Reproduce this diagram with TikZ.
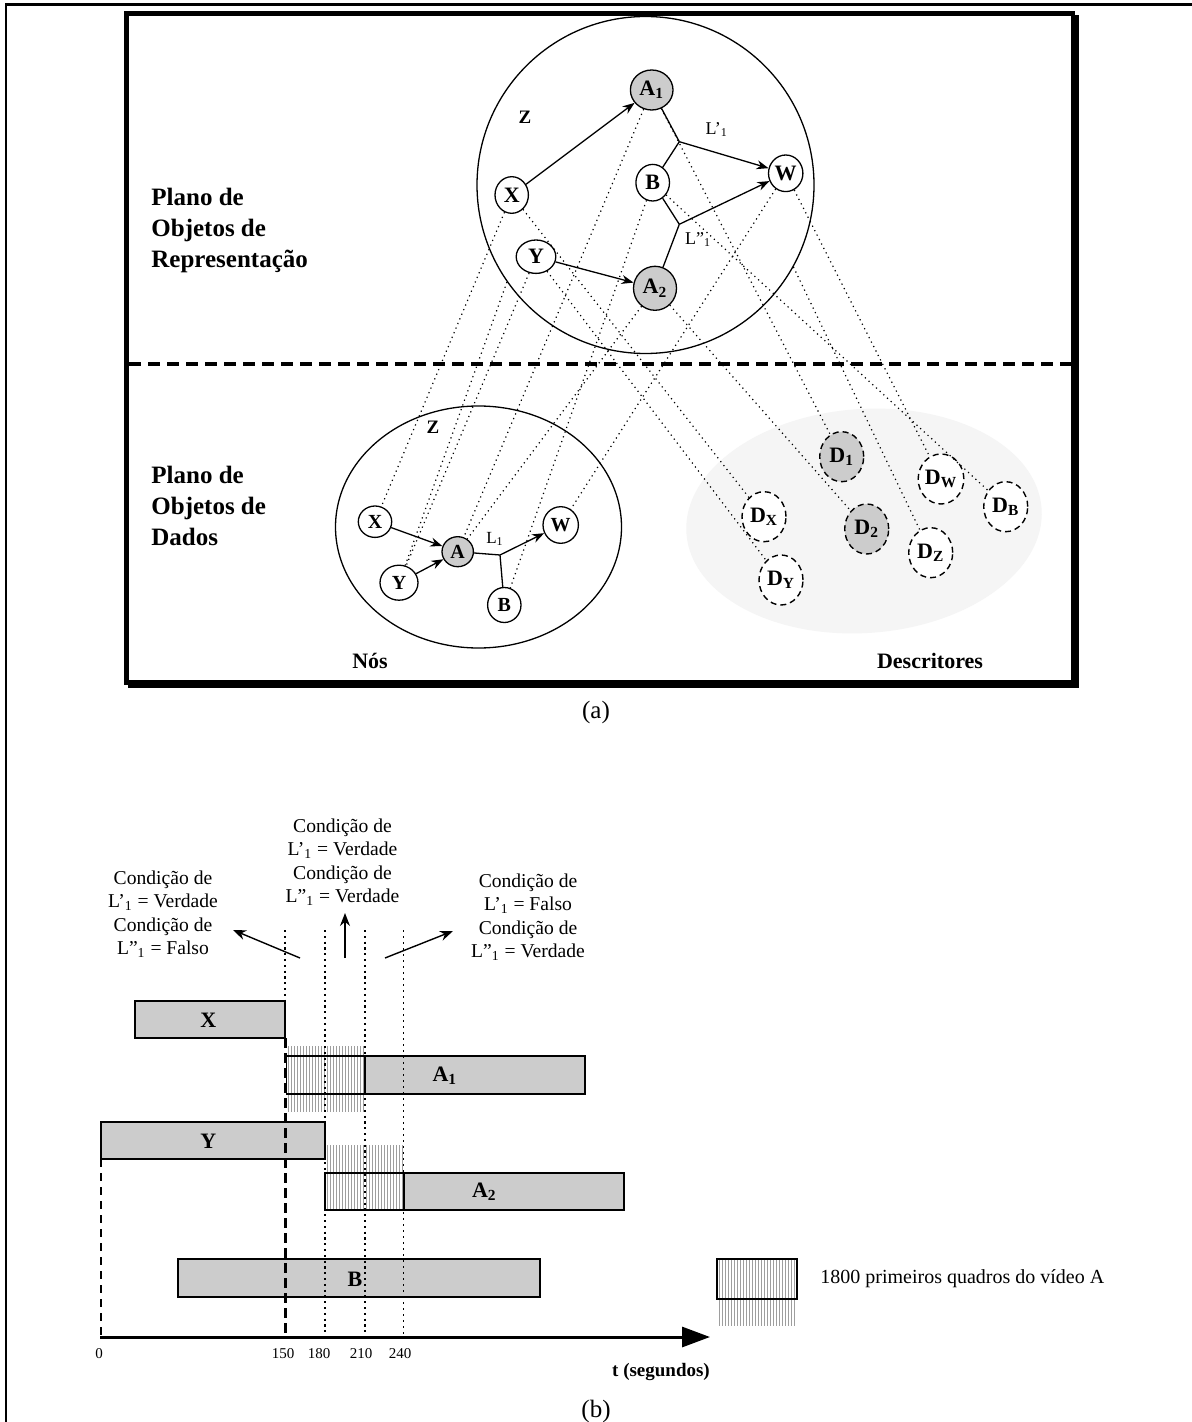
\documentclass[tikz,border=0pt]{standalone}
\usepackage{fontspec}
\setmainfont{Liberation Serif}
\usetikzlibrary{shapes.geometric,arrows.meta}
\definecolor{nodegray}{gray}{0.8}
\definecolor{descbg}{gray}{0.96}
\definecolor{bargray}{gray}{0.8}
\definecolor{hatchgray}{gray}{0.62}
\begin{document}
\begin{tikzpicture}[x=0.5pt,y=-0.5pt,
  nd/.style 2 args={ellipse,draw,line width=0.65pt,inner sep=0pt,minimum width=#1pt,minimum height=#2pt,fill=white,font=\bfseries\fontsize{11}{12}\selectfont},
  lnd/.style 2 args={nd={#1}{#2},font=\bfseries\fontsize{10}{11}\selectfont},
  dd/.style={ellipse,draw,line width=0.7pt,dash pattern=on 3pt off 2pt,inner sep=0pt,minimum width=22pt,minimum height=25pt,fill=white,font=\bfseries\fontsize{11}{12}\selectfont},
  arr/.style={line width=0.65pt,-{Stealth[length=6pt,width=4.5pt]}},
  ln/.style={line width=0.65pt},
  map/.style={line width=0.6pt,dash pattern=on 0.6pt off 1.9pt},
  txt/.style={inner sep=0pt},
  bar/.style={draw,line width=0.9pt},
  hatch/.style={draw=hatchgray,line width=0.35pt},
  vdot/.style={line width=1.1pt,dash pattern=on 1.1pt off 1.8pt},
  arrb/.style={line width=0.7pt,-{Stealth[length=6.5pt,width=5pt]}}
]
\useasboundingbox (0,0) rectangle (1192,1422);
% outer frame
\draw[line width=1.4pt] (6,1422) -- (6,4.5) -- (1192,4.5);
% frame (a) with shadow
\fill (128,15) rectangle (1079,688);
\filldraw[fill=white,line width=2.2pt] (126.5,13.5) rectangle (1073,682.5);
% descriptor background
\node[ellipse,fill=descbg,minimum width=178pt,minimum height=112pt,rotate=4,inner sep=0pt] (dbg) at (864,521) {};
% divider
\draw[line width=1.6pt,dash pattern=on 6pt off 3.5pt] (129,364) -- (1071,364);
% big circles
\node[circle,draw,line width=0.65pt,minimum size=168.5pt,inner sep=0pt] (tZ) at (645.5,185) {};
\node[ellipse,draw,line width=0.65pt,minimum width=143pt,minimum height=121pt,inner sep=0pt] (lZ) at (478.5,527) {};
\node[txt,font=\bfseries\fontsize{9.5}{10}\selectfont] (tZl) at (525,117) {Z};
\node[txt,font=\bfseries\fontsize{9.5}{10}\selectfont] (lZl) at (433,427) {Z};
% plane labels
\node[txt,anchor=west,align=left,font=\bfseries\fontsize{12.5}{15.5}\selectfont] (p1) at (151,230) {Plano de\\Objetos de\\Representação};
\node[txt,anchor=west,align=left,font=\bfseries\fontsize{12.5}{15.5}\selectfont] (p2) at (151,506) {Plano de\\Objetos de\\Dados};
\node[txt,font=\bfseries\fontsize{11}{13}\selectfont] (nos) at (370,661) {Nós};
\node[txt,font=\bfseries\fontsize{11}{13}\selectfont] (des) at (930,661) {Descritores};
\node[txt,font=\fontsize{12.5}{14}\selectfont] (capa) at (596,712) {(a)};
% top nodes
\node[nd={21.3}{20},fill=nodegray] (tA1) at (651.7,90) {A\textsubscript{1}};
\node[nd={16.7}{18.3}] (tX) at (511.7,195) {X};
\node[nd={16.8}{18.3}] (tB) at (652.7,182.7) {B};
\node[nd={17.2}{18.3}] (tW) at (785.7,173.3) {W};
\node[nd={19.8}{16.7}] (tY) at (536,256.7) {Y};
\node[nd={21.5}{22},fill=nodegray] (tA2) at (655,288.3) {A\textsubscript{2}};
\coordinate (J1) at (679.3,141.7);
\coordinate (J2) at (679.3,224.3);
\draw[arr] (tX) -- (tA1);
\draw[arr] (tY) -- (tA2);
\draw[ln] (tA1) -- (J1);
\draw[ln] (tB) -- (J1);
\draw[arr] (J1) -- (tW);
\draw[ln] (tB) -- (J2);
\draw[ln] (tA2) -- (J2);
\draw[arr] (J2) -- (tW);
\node[txt,font=\fontsize{9}{10}\selectfont] (L1a) at (716.7,130) {L’\textsubscript{1}};
\node[txt,font=\fontsize{9}{10}\selectfont] (L1b) at (698,240) {L”\textsubscript{1}};
% lower nodes
\node[lnd={16.7}{15.7}] (lX) at (375,521.7) {X};
\node[lnd={15.7}{15},fill=nodegray] (lA) at (457.7,551.7) {A};
\node[lnd={19}{17.5}] (lY) at (399,582.7) {Y};
\node[lnd={17.7}{18.3}] (lW) at (560.7,525) {W};
\node[lnd={16.7}{17.5}] (lB) at (504.3,605) {B};
\coordinate (J3) at (500,555);
\draw[arr] (lX) -- (lA);
\draw[arr] (lY) -- (lA);
\draw[ln] (lA) -- (J3);
\draw[ln] (lB) -- (J3);
\draw[arr] (J3) -- (lW);
\node[txt,font=\fontsize{8.5}{10}\selectfont] (L1c) at (495,539) {L\textsubscript{1}};
% descriptors
\node[dd,fill=nodegray] (D1) at (841.7,456.7) {D\textsubscript{1}};
\node[dd] (DW) at (941,479) {D\textsubscript{W}};
\node[dd] (DB) at (1005.7,506.7) {D\textsubscript{B}};
\node[dd] (DX) at (764,516.7) {D\textsubscript{X}};
\node[dd,fill=nodegray] (D2) at (866.7,529) {D\textsubscript{2}};
\node[dd] (DZ) at (930.7,552.7) {D\textsubscript{Z}};
\node[dd] (DY) at (781,580) {D\textsubscript{Y}};
% mapping lines
\draw[map] (tX) -- (lX);
\draw[map] (tX) -- (DX);
\draw[map] (tY) -- (lY);
\draw[map] (tY) -- (DY);
\draw[map] (tA1) -- (lA);
\draw[map] (tA1) -- (D1);
\draw[map] (tA2) -- (lA);
\draw[map] (tA2) -- (D2);
\draw[map] (tB) -- (lB);
\draw[map] (tB) -- (DB);
\draw[map] (tW) -- (lW);
\draw[map] (tW) -- (DW);
\draw[map] (tZ.215) -- (lY);
\draw[map] (tZ.-29) -- (DZ);
% ---------------- part (b)
\node[txt,align=center,font=\fontsize{9.8}{11.75}\selectfont] (cL) at (163,914) {Condição de\\L’\textsubscript{1} = Verdade\\Condição de\\L”\textsubscript{1} = Falso};
\node[txt,align=center,font=\fontsize{9.8}{11.75}\selectfont] (cM) at (342.5,862) {Condição de\\L’\textsubscript{1} = Verdade\\Condição de\\L”\textsubscript{1} = Verdade};
\node[txt,align=center,font=\fontsize{9.8}{11.75}\selectfont] (cR) at (528,917) {Condição de\\L’\textsubscript{1} = Falso\\Condição de\\L”\textsubscript{1} = Verdade};
\coordinate (aL0) at (300,958); \coordinate (aL1) at (233,930);
\coordinate (aM0) at (345,958); \coordinate (aM1) at (345,913);
\coordinate (aR0) at (385,958); \coordinate (aR1) at (453,931);
\draw[arrb] (aL0) -- (aL1);
\draw[arrb] (aM0) -- (aM1);
\draw[arrb] (aR0) -- (aR1);
% hatching
\foreach \hx in {288,291,...,364} \draw[hatch] (\hx,1046) -- (\hx,1112);
\foreach \hx in {327,330,...,403} \draw[hatch] (\hx,1145) -- (\hx,1210);
\foreach \hx in {719,722,...,796} \draw[hatch] (\hx,1259) -- (\hx,1326);
% bars
\draw[bar,fill=bargray] (134.8,1001) rectangle (285.3,1038);
\node[txt,font=\bfseries\fontsize{11}{12}\selectfont] (bX) at (208.3,1020) {X};
\draw[bar] (286.4,1056) rectangle (365.3,1093.7);
\draw[bar,fill=bargray] (365.3,1056) rectangle (585.3,1093.7);
\node[txt,font=\bfseries\fontsize{11}{12}\selectfont] (bA1) at (444.8,1076) {A\textsubscript{1}};
\draw[bar,fill=bargray] (100.8,1122) rectangle (324.8,1159.3);
\node[txt,font=\bfseries\fontsize{11}{12}\selectfont] (bY) at (208.3,1141) {Y};
\draw[bar] (324.8,1173.3) rectangle (404,1210.2);
\draw[bar,fill=bargray] (404,1173.3) rectangle (624,1210.2);
\node[txt,font=\bfseries\fontsize{11}{12}\selectfont] (bA2) at (484.3,1192) {A\textsubscript{2}};
\draw[bar,fill=bargray] (177.8,1259.3) rectangle (539.8,1297);
\node[txt,font=\bfseries\fontsize{11}{12}\selectfont] (bB) at (355,1279) {B};
% time marks
\draw[line width=0.9pt,dash pattern=on 4pt off 3pt] (100.8,1159.3) -- (100.8,1337);
\draw[vdot] (285.3,930) -- (285.3,1001);
\draw[line width=1.2pt,dash pattern=on 5pt off 2.5pt] (285.3,1038) -- (285.3,1337);
\draw[vdot] (324.8,930) -- (324.8,1337);
\draw[vdot] (364.8,930) -- (364.8,1337);
\draw[line width=0.7pt,dash pattern=on 1pt off 2pt] (403.5,930) -- (403.5,1337);
% axis
\coordinate (ax0) at (100,1337);
\coordinate (ax1) at (710,1337);
\draw[line width=1.5pt,-{Triangle[length=14pt,width=10pt]}] (ax0) -- (ax1);
\node[txt,font=\fontsize{7.5}{8}\selectfont] (t0) at (99,1354) {0};
\node[txt,font=\fontsize{7.5}{8}\selectfont] (t150) at (283,1354) {150};
\node[txt,font=\fontsize{7.5}{8}\selectfont] (t180) at (319,1354) {180};
\node[txt,font=\fontsize{7.5}{8}\selectfont] (t210) at (361,1354) {210};
\node[txt,font=\fontsize{7.5}{8}\selectfont] (t240) at (400,1354) {240};
\node[txt,font=\bfseries\fontsize{9.5}{11}\selectfont] (tlab) at (661,1372) {t (segundos)};
\node[txt,font=\fontsize{12.5}{14}\selectfont] (capb) at (596,1411) {(b)};
% legend
\draw[bar] (717,1259) rectangle (797,1299);
\node[txt,anchor=west,font=\fontsize{10}{12}\selectfont] (leg) at (820,1279) {1800 primeiros quadros do vídeo A};
\end{tikzpicture}
\end{document}
